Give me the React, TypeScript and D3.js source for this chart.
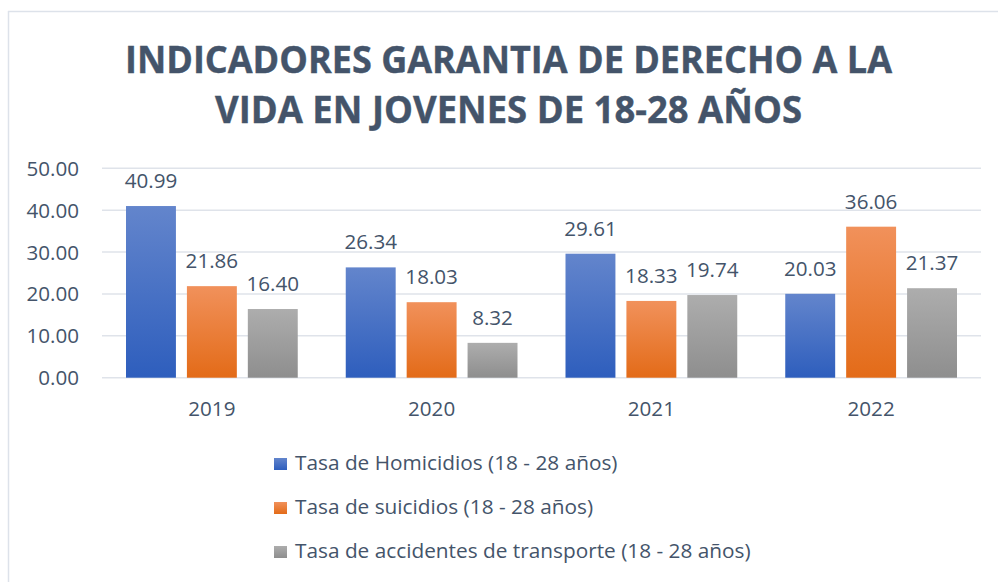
import React from "react";
import * as d3 from "d3";

const years = ["2019", "2020", "2021", "2022"];
const seriesNames = [
  "Tasa de Homicidios (18 - 28 años)",
  "Tasa de suicidios (18 - 28 años)",
  "Tasa de accidentes de transporte (18 - 28 años)",
];
const homicidios = [40.99, 26.34, 29.61, 20.03];
const suicidios = [21.86, 18.03, 18.33, 36.06];
const transporte = [16.4, 8.32, 19.74, 21.37];
const yTicks = [0, 10, 20, 30, 40, 50];
const titleLines = ["INDICADORES GARANTIA DE DERECHO A LA", "VIDA EN JOVENES DE 18-28 AÑOS"];

const seriesValues = [homicidios, suicidios, transporte];
const gradients = [
  ["#6385cc", "#2e5ebd"],
  ["#f1915b", "#e36b18"],
  ["#adadad", "#8e8e8e"],
];

const W = 998;
const H = 582;
const TEXT = "#44546a";
const FONT = "'Open Sans', sans-serif";

export default function App() {
  const y = d3.scaleLinear().domain([0, 50]).range([377.7, 168.3]);
  const x0 = d3.scaleBand<string>().domain(years).range([102, 981]).padding(0);
  const x1 = d3
    .scaleBand<number>()
    .domain([0, 1, 2])
    .range([24, x0.bandwidth() - 24])
    .paddingInner(11 / 61)
    .paddingOuter(0);

  return (
    <svg
      width={W}
      height={H}
      style={{ position: "absolute", left: 0, top: 0, background: "#fff" }}
      fontFamily={FONT}
    >
      <defs>
        {gradients.map((g, i) => (
          <linearGradient key={i} id={`grad${i}`} x1="0" y1="0" x2="0" y2="1">
            <stop offset="0" stopColor={g[0]} />
            <stop offset="1" stopColor={g[1]} />
          </linearGradient>
        ))}
      </defs>
      <rect x={0} y={0} width={W} height={H} fill="#fff" />
      <line x1={8.5} y1={11} x2={8.5} y2={H} stroke="#dde2ea" strokeWidth={1.5} />
      <line x1={8} y1={11.5} x2={W} y2={11.5} stroke="#dde2ea" strokeWidth={1.5} />

      {titleLines.map((t, i) => (
        <text
          key={t}
          x={508.5}
          y={i === 0 ? 72.5 : 122.5}
          textAnchor="middle"
          fontWeight="bold"
          fontSize={38}
          fill={TEXT}
          stroke={TEXT}
          strokeWidth={0.4}
          textLength={i === 0 ? 767 : 587}
          lengthAdjust="spacingAndGlyphs"
        >
          {t}
        </text>
      ))}

      {yTicks.map((t) => (
        <g key={t}>
          <line x1={102} x2={981} y1={y(t)} y2={y(t)} stroke="#dfe3ea" strokeWidth={1.5} />
          <text x={79} y={y(t) + 7.5} textAnchor="end" fontSize={20.6} fill={TEXT}>
            {d3.format(".2f")(t)}
          </text>
        </g>
      ))}

      {years.map((yr, gi) => (
        <g key={yr} transform={`translate(${x0(yr)},0)`}>
          {seriesValues.map((vals, si) => {
            const v = vals[gi];
            const bx = x1(si)!;
            const bw = x1.bandwidth();
            return (
              <g key={si}>
                <rect x={bx} y={y(v)} width={bw} height={y(0) - y(v)} fill={`url(#grad${si})`} />
                <text
                  x={bx + bw / 2}
                  y={y(v) - 18}
                  textAnchor="middle"
                  fontSize={20.6}
                  fill={TEXT}
                >
                  {d3.format(".2f")(v)}
                </text>
              </g>
            );
          })}
          <text x={x0.bandwidth() / 2} y={416} textAnchor="middle" fontSize={20.6} fill={TEXT}>
            {yr}
          </text>
        </g>
      ))}

      {seriesNames.map((n, i) => (
        <g key={n} transform={`translate(274,${458 + i * 44})`}>
          <rect x={0} y={0} width={13} height={12} fill={`url(#grad${i})`} />
          <text x={21} y={11.5} fontSize={20.8} fill={TEXT}>
            {n}
          </text>
        </g>
      ))}
    </svg>
  );
}
